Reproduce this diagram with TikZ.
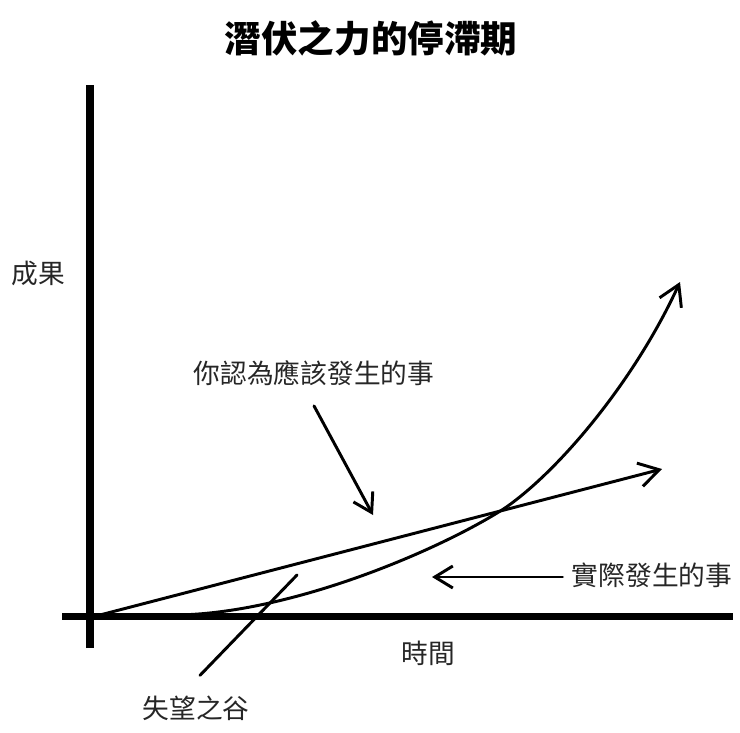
\documentclass[tikz,border=0pt]{standalone}
\usepackage{fontspec}
\setmainfont{Noto Sans CJK TC}
\usetikzlibrary{arrows.meta}
\tikzset{
  every picture/.style={line cap=round},
  axis/.style={line width=5pt, line cap=butt},
  trend/.style={line width=2.1pt, -{Straight Barb[length=5mm, width=6mm]}},
  pointer/.style={line width=2.1pt, -{Straight Barb[length=4.5mm, width=5.5mm]}},
  note/.style={font=\fontsize{19}{23}\selectfont, text=black!85, inner sep=0pt},
  title/.style={font=\fontsize{26}{30}\selectfont\bfseries, inner sep=0pt},
}
\begin{document}
\begin{tikzpicture}[x=0.025cm, y=-0.025cm]
  \useasboundingbox (0,0) rectangle (740,732);
  % axes
  \coordinate (ytop) at (90,85);
  \coordinate (ybot) at (90,648);
  \coordinate (xleft) at (62,616);
  \coordinate (xright) at (733,616);
  \draw[axis] (ybot) -- (ytop);
  \draw[axis] (xleft) -- (xright);
  % texts
  \node[title] (head) at (371,38) {潛伏之力的停滯期};
  \node[note] (result) at (38,273) {成果};
  \node[note] (time) at (428,653) {時間};
  \node[note] (expect) at (314,373) {你認為應該發生的事};
  \node[note] (actual) at (652,575) {實際發生的事};
  \node[note] (valley) at (196,708) {失望之谷};
  % expected: straight line
  \coordinate (lin0) at (96,616);
  \coordinate (lin1) at (662,469);
  \draw[trend] (lin0) -- (lin1);
  % actual: slow start, then steep
  \coordinate (cur0) at (175,615);
  \coordinate (cross) at (505,508);
  \coordinate (cur1) at (680,282);
  \draw[trend] (cur0) .. controls (290,614) and (440,550) .. (cross)
    .. controls (560,470) and (635,380) .. (cur1);
  % pointers to the curves
  \coordinate (expecthit) at (373,515);
  \coordinate (actualhit) at (432,577);
  \coordinate (valleyhit) at (297,575);
  \draw[pointer] (expect.south) ++(0,20) coordinate (expectfrom) (expectfrom) -- (expecthit);
  \draw[pointer] (actual.west) ++(-9,2) coordinate (actualfrom) (actualfrom) -- (actualhit);
  \draw[line width=2.1pt] (valley.north) ++(4,-20) coordinate (valleyfrom) (valleyfrom) -- (valleyhit);
\end{tikzpicture}
\end{document}
